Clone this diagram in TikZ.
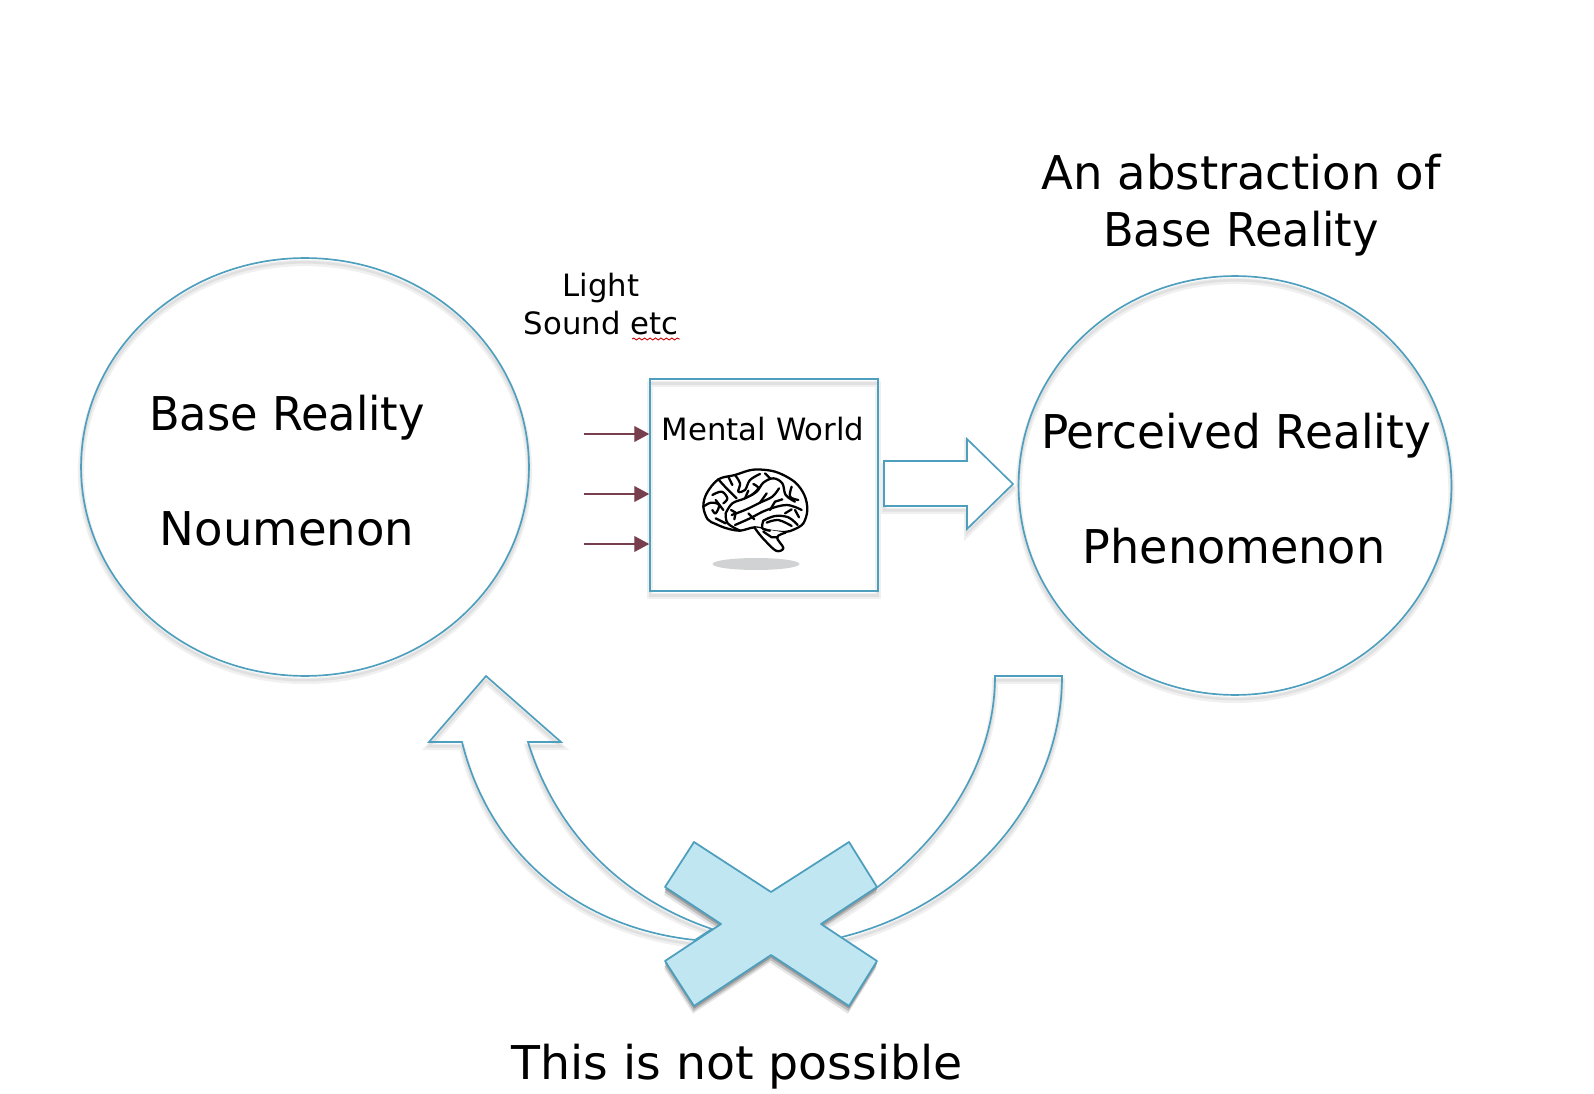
\documentclass[tikz,border=0pt]{standalone}
\usepackage{fontspec}
\setmainfont{DejaVu Sans}
\usetikzlibrary{arrows.meta, shapes.geometric, decorations.pathmorphing}

\definecolor{shapeblue}{HTML}{4E9FBE}
\definecolor{crossfill}{HTML}{C0E6F2}
\definecolor{inputred}{HTML}{773F4D}
\definecolor{brainshade}{HTML}{D0D2D3}

\tikzset{
	softline/.style={preaction={draw=black!6, line width=3.6pt, transform canvas={yshift=-2.8pt}},
		preaction={draw=black!12, line width=1.5pt, transform canvas={yshift=-2.4pt}},
		draw=shapeblue, line width=0.95pt},
	bigtext/.style={font=\fontsize{26.5}{32.5}\selectfont},
	smalltext/.style={font=\fontsize{17.5}{21.5}\selectfont},
	inputarrow/.style={-{Triangle[length=8.5pt, width=9pt]}, draw=inputred, line width=0.8pt},
	brainline/.style={draw=black, line width=1.3pt, line cap=round, line join=round}
}

\begin{document}
\begin{tikzpicture}[x=0.02cm, y=-0.02cm]
	\useasboundingbox (0, 0) rectangle (1594, 1094);

	% the two circles
	\node (noumenon) at (305, 467) [ellipse, softline, inner sep=0, minimum width=8.96cm, minimum height=8.36cm] {};
	\node (phenomenon) at (1235, 485.5) [ellipse, softline, inner sep=0, minimum width=8.66cm, minimum height=8.38cm] {};

	\node (baselabel) at (287, 418) [bigtext] {\scalebox{0.96}[1]{Base Reality}};
	\node (noumenonlabel) at (287, 529) [bigtext] {Noumenon};
	\node (perceivedlabel) at (1236, 436) [bigtext] {\scalebox{0.975}[1]{Perceived Reality}};
	\node (phenomenonlabel) at (1234, 546) [bigtext] {\scalebox{0.99}[1]{Phenomenon}};
	\node (abstractlabel) at (1241, 205) [bigtext, align=center] {An abstraction of\\\scalebox{0.96}[1]{Base Reality}};

	% mental world box
	\node (mental) at (764, 485) [rectangle, softline, inner sep=0, minimum width=4.56cm, minimum height=4.24cm] {};
	\node (mentallabel) at (763, 429) [smalltext] {Mental World};
	\node (brainshadow) at (756, 564) [ellipse, fill=brainshade, inner sep=0, minimum width=1.74cm, minimum height=0.24cm] {};

	% brain, traced by hand
	\begin{scope}[shift={(695, 460)}, x=0.00667cm, y=-0.00667cm]
		\draw[brainline, fill=white] plot[smooth cycle, tension=0.55] coordinates {(120,45) (175,29) (240,35) (298,65) (328,105) (337,150) (325,190) (298,208) (270,216) (225,212) (180,202) (135,212) (95,205) (62,192) (38,178) (25,140) (35,100) (70,58)};
		\draw[brainline, fill=white] plot[smooth, tension=0.6] coordinates {(178,202) (195,225) (218,250) (245,273) (265,264) (246,232) (272,218)};
		\draw[brainline] plot[smooth, tension=0.6] coordinates {(92,160) (112,130) (150,115) (185,95) (205,68) (235,55) (262,70) (272,105) (300,125)};
		\draw[brainline] plot[smooth, tension=0.6] coordinates {(92,160) (98,190) (135,212)};
		\draw[brainline] plot[smooth, tension=0.6] coordinates {(110,165) (150,150) (195,128) (232,110) (252,85)};
		\draw[brainline] plot[smooth, tension=0.6] coordinates {(120,195) (165,175) (215,150) (275,135) (320,150)};
		\draw[brainline] (108,150) -- (122,158) -- (118,178);
		\draw[brainline] plot[smooth, tension=0.6] coordinates {(120,45) (135,70) (130,95) (150,90) (165,60) (195,42)};
		\draw[brainline] plot[smooth, tension=0.6] coordinates {(70,58) (90,80) (125,115)};
		\draw[brainline] plot[smooth, tension=0.6] coordinates {(52,105) (80,95) (97,115) (85,130)};
		\draw[brainline] plot[smooth, tension=0.6] coordinates {(25,140) (48,128) (72,135) (62,160) (52,150)};
		\draw[brainline] (62,175) -- (92,190);
		\draw[brainline] plot[smooth, tension=0.6] coordinates {(175,72) (190,85) (170,105)};
		\draw[brainline] plot[smooth, tension=0.6] coordinates {(290,80) (285,110) (310,120)};
		\draw[brainline] plot[smooth, tension=0.6] coordinates {(205,182) (240,168) (280,172) (308,195)};
		\draw[brainline] plot[smooth, tension=0.6] coordinates {(215,188) (250,180) (290,198)};
		\draw[brainline] plot[smooth, tension=0.6] coordinates {(205,182) (202,205) (225,212)};
		\draw[brainline] (205,215) -- (230,232) -- (248,232);
		\draw[brainline] (160,160) -- (178,178);
		\draw[brainline] (195,128) -- (215,100);
		\draw[brainline] (150,115) -- (160,92);
		\draw[brainline] (225,150) -- (240,125) -- (262,118);
		\draw[brainline] (300,150) -- (312,172);
		\draw[brainline] (270,160) -- (290,148);
		\draw[brainline] (210,40) -- (225,55);
		\draw[brainline] (100,50) -- (112,75);
		\draw[brainline] (85,150) -- (62,120);
	\end{scope}

	% what comes in
	\coordinate (lightin) at (584, 434);
	\coordinate (soundin) at (584, 494);
	\coordinate (otherin) at (584, 544);
	\draw[inputarrow] (lightin) -- (lightin -| mental.west);
	\draw[inputarrow] (soundin) -- (soundin -| mental.west);
	\draw[inputarrow] (otherin) -- (otherin -| mental.west);
	\node (inputlabel) at (601, 304) [smalltext, align=center] {Light\\Sound etc};
	\draw[red!80!black, line width=0.5pt, decorate, decoration={snake, amplitude=0.55pt, segment length=3.1pt}] (632, 339) -- (680, 339);

	% block arrow to the right circle
	\draw[softline, fill=white] (884, 461) -- (967, 461) -- (967, 439) -- (1013, 484) -- (967, 529) -- (967, 506) -- (884, 506) -- cycle;

	% curved arrow back, crossed out
	\draw[softline] (462, 742) -- (429, 742) -- (486, 676) -- (561, 742) -- (528, 742)
		.. controls (555, 830) and (620, 898) .. (712, 929) -- (695, 940)
		.. controls (580, 928) and (490, 855) .. (462, 742) -- cycle;
	\draw[softline] (842, 937) .. controls (970, 905) and (1062, 800) .. (1062, 676) -- (995, 676)
		.. controls (995, 770) and (935, 860) .. (823, 923);

	\draw[preaction={fill=black!10, transform canvas={xshift=-0.6pt, yshift=-4.4pt}}, preaction={fill=black!25, transform canvas={xshift=-0.3pt, yshift=-3pt}}, preaction={fill=black!40, transform canvas={yshift=-1.6pt}}, draw=shapeblue, line width=1pt, fill=crossfill, line join=round]
		(694, 842) -- (771, 892) -- (849, 842) -- (877, 887) -- (821, 924) -- (877, 961) -- (849, 1006)
		-- (771, 955) -- (694, 1006) -- (665, 961) -- (721, 924) -- (665, 887) -- cycle;

	\node (crosslabel) at (737, 1067) [bigtext] {\scalebox{1.018}[1]{This is not possible}};
\end{tikzpicture}
\end{document}
